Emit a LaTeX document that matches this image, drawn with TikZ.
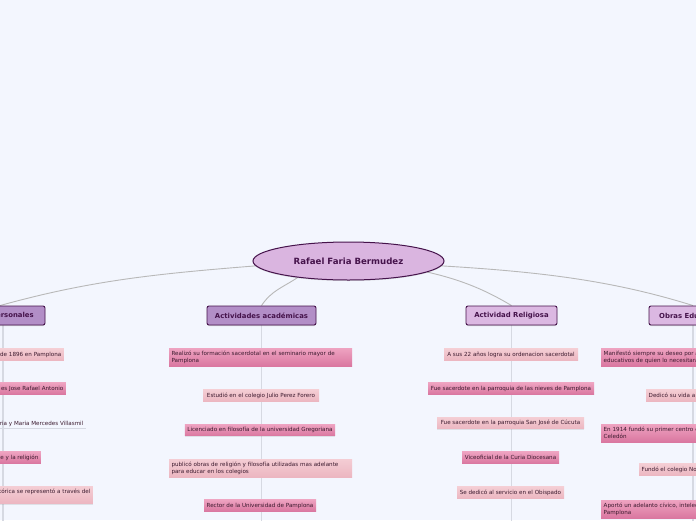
\documentclass[tikz,border=0pt]{standalone}
\usepackage{fontspec}
\setmainfont{DejaVu Sans}
\usetikzlibrary{shapes.geometric,shadows}
\definecolor{bgc}{HTML}{F3F6FE}
\definecolor{cfill}{HTML}{DAB5E0}
\definecolor{cborder}{HTML}{45134B}
\definecolor{bdark}{HTML}{B28EC7}
\definecolor{blight}{HTML}{DBB8E2}
\definecolor{ldtop}{HTML}{EEA3C1}
\definecolor{ldbot}{HTML}{DA77A0}
\definecolor{lltop}{HTML}{F4CDD4}
\definecolor{llbot}{HTML}{ECB6C1}
\definecolor{ltext}{HTML}{3B1A2E}
\definecolor{conngray}{HTML}{B8B8B8}
\definecolor{stemgray}{HTML}{D6D9E2}
\pgfdeclarelayer{bg}
\pgfsetlayers{bg,main}
\tikzset{
  conn/.style={draw=conngray, line width=0.9pt},
  stem/.style={draw=stemgray, line width=1.1pt},
  central/.style={ellipse, draw=cborder, line width=1pt, fill=cfill, minimum width=191, minimum height=38, inner sep=0pt,
    font=\bfseries\fontsize{8.6}{10}\selectfont, text=cborder,
    drop shadow={shadow xshift=0pt, shadow yshift=-1pt, opacity=0.25}},
  branch/.style={rectangle, rounded corners=2pt, draw=cborder, line width=0.9pt, minimum height=19, inner sep=0pt,
    font=\bfseries\fontsize{6.9}{8}\selectfont, text=cborder,
    drop shadow={shadow xshift=0pt, shadow yshift=-1pt, opacity=0.3}},
  branchdark/.style={branch, fill=bdark},
  branchlight/.style={branch, fill=blight},
  leaf/.style={rectangle, inner xsep=2.5pt, inner ysep=0pt, minimum height=11.5, text=ltext,
    font=\fontsize{5.6}{6.8}\selectfont,
    drop shadow={shadow xshift=0pt, shadow yshift=-1.2pt, opacity=0.18}},
  leafdark/.style={leaf, top color=ldtop, bottom color=ldbot},
  leaflight/.style={leaf, top color=lltop, bottom color=llbot},
  twoline/.style={minimum height=18, text width=#1, align=left},
  plain/.style={rectangle, inner xsep=2.5pt, inner ysep=1pt, text=ltext, font=\fontsize{5.6}{6.8}\selectfont}
}
\begin{document}
\begin{tikzpicture}[x=1pt,y=-1pt]
\useasboundingbox (0,0) rectangle (696,520);
\begin{pgfonlayer}{bg}
  \fill[bgc] (0,0) rectangle (696,520);
\end{pgfonlayer}
\coordinate (bot) at (0,530);

% central
\node[central] (c) at (348.5,261) {Rafael Faria Bermudez};

% branches
\node[branchdark, minimum width=90] (b1) at (0,315.5) {Datos personales};
\node[branchdark, minimum width=109] (b2) at (261.5,315.5) {Actividades académicas};
\node[branchlight, minimum width=91] (b3) at (511.5,315.5) {Actividad Religiosa};
\node[branchlight, minimum width=88] (b4) at (693,315.5) {Obras Educativas};

% Datos personales leaves
\node[leaflight, anchor=east] (d1) at (64,354.5) {Nació el 2 de octubre de 1896 en Pamplona};
\node[leafdark, anchor=east] (d2) at (66,388.5) {Su nombre completo es Jose Rafael Antonio};
\node[plain, anchor=east] (d3) at (86,424) {Sus padres fueron Jose Maria Faria y Maria Mercedes Villasmil};
\node[leafdark, anchor=east] (d4) at (41,457.5) {Se apasionó por la enseñanza, el arte y la religión};
\node[leaflight, minimum height=17, align=left, anchor=east] (d5) at (93,495) {Su figura histórica se representó a través del\\ arte};

% Actividades academicas leaves
\node[leafdark, twoline=178] (a1) at (260.5,357) {Realizó su formación sacerdotal en el seminario mayor de\\Pamplona};
\node[leaflight, minimum width=116] (a2) at (261,395.5) {Estudió en el colegio Julio Perez Forero};
\node[leafdark, minimum width=150] (a3) at (260,430) {Licenciado en filosofía de la universidad Gregoriana};
\node[leaflight, twoline=178] (a4) at (260.5,468) {publicó obras de religión y filosofía utilizadas mas adelante\\para educar en los colegios};
\node[leafdark, minimum width=112] (a5) at (260,505.5) {Rector de la Universidad de Pamplona};

% Actividad religiosa leaves
\node[leaflight, minimum width=134] (r1) at (511,354.5) {A sus 22 años logra su ordenacion sacerdotal};
\node[leafdark, minimum width=166] (r2) at (511,388.5) {Fue sacerdote en la parroquia de las nieves de Pamplona};
\node[leaflight, minimum width=147] (r3) at (510.5,423) {Fue sacerdote en la parroquia San José de Cúcuta};
\node[leafdark, minimum width=97] (r4) at (510.5,457.5) {Viceoficial de la Curia Diocesana};
\node[leaflight, minimum width=107] (r5) at (510.5,492.5) {Se dedicó al servicio en el Obispado};

% Obras educativas leaves
\node[leafdark, twoline=178, anchor=west] (o1) at (601,357) {Manifestó siempre su deseo por apoyar los procesos\\educativos de quien lo necesitara};
\node[leaflight, anchor=west] (o2) at (646,395.5) {Dedicó su vida a la educación};
\node[leafdark, twoline=178, anchor=west] (o3) at (601,433) {En 1914 fundó su primer centro educativo, el colegio\\Celedón};
\node[leaflight, anchor=west] (o4) at (639,469.5) {Fundó el colegio Nocturno de Pamplona};
\node[leafdark, twoline=178, anchor=west] (o5) at (601,509) {Aportó un adelanto cívico, intelectual y cultural de\\Pamplona};

\begin{pgfonlayer}{bg}
  \draw[conn] (c.183) .. controls +(-100,8) and +(90,-25) .. (b1.north);
  \draw[conn] (c.198) .. controls +(-15,10) and +(10,-15) .. (b2.north);
  \draw[conn] (c.-8) .. controls +(35,8) and +(-25,-15) .. (b3.north);
  \draw[conn] (c.-3) .. controls +(100,6) and +(-80,-25) .. (b4.north);
  \draw[stem] ([xshift=3pt]b1.south) -- ([xshift=3pt]b1.south |- bot);
  \draw[stem] (b2.south) -- (b2.south |- bot);
  \draw[stem] (b3.south) -- (b3.south |- bot);
  \draw[stem] (b4.south) -- (b4.south |- bot);
  \draw[stem, line width=0.7pt] (d3.south west) -- (d3.south east);
\end{pgfonlayer}
\end{tikzpicture}
\end{document}
